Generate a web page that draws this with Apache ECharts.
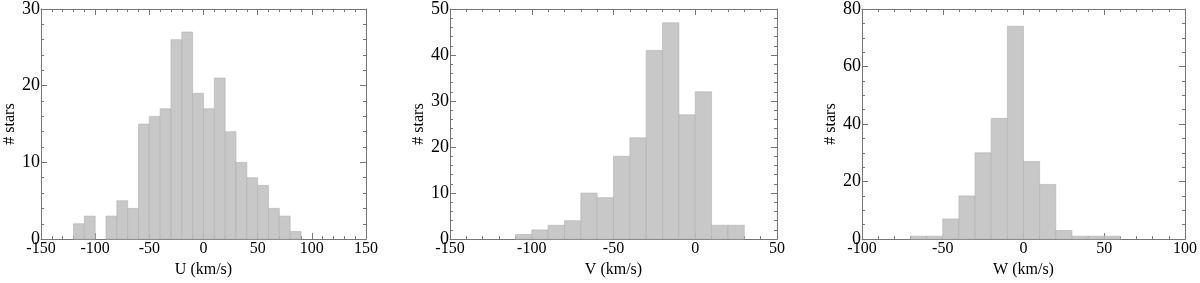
<!DOCTYPE html>
<html><head><meta charset="utf-8">
<script src="https://cdn.jsdelivr.net/npm/echarts@6/dist/echarts.min.js"></script>
<style>html,body{margin:0;padding:0;background:#fff}#c{width:1200px;height:283px}</style>
</head><body><div id="c"></div>
<script>
// Bin width (km/s)
var binWidth = 10;
// U histogram: left edges and counts
var uBins   = [-120,-110,-100,-90,-80,-70,-60,-50,-40,-30,-20,-10,0,10,20,30,40,50,60,70,80];
var uCounts = [2,3,0,3,5,4,15,16,17,26,27,19,17,21,14,10,8,7,4,3,1];
// V histogram
var vBins   = [-110,-100,-90,-80,-70,-60,-50,-40,-30,-20,-10,0,10,20];
var vCounts = [1,2,3,4,10,9,18,22,41,47,27,32,3,3];
// W histogram
var wBins   = [-70,-60,-50,-40,-30,-20,-10,0,10,20,30,40,50];
var wCounts = [1,1,7,15,30,42,74,27,19,3,1,1,1];

var xNames = ['U (km/s)','V (km/s)','W (km/s)'];
var yName = '# stars';
var xRanges = [[-150,150,50],[-150,50,50],[-100,100,50]];
var yRanges = [[0,30,10,5],[0,50,10,5],[0,80,20,4]];

var FONT = '"Liberation Serif", "DejaVu Serif", serif';
var FRAME = '#767676';

var grids = [
  {left:41, top:9, width:325, height:236},
  {left:450, top:9, width:327, height:236},
  {left:862, top:9, width:325, height:236}
];

var xAxes = [], yAxes = [], series = [];
var sets = [[uBins,uCounts],[vBins,vCounts],[wBins,wCounts]];

function tickCfg(){
  return {show:true, inside:true, length:6, lineStyle:{color:FRAME,width:1}};
}
for (var i=0;i<3;i++){
  var xr = xRanges[i], yr = yRanges[i];
  var base = {
    type:'value', gridIndex:i, min:xr[0], max:xr[1], interval:xr[2],
    axisLine:{show:true,onZero:false,lineStyle:{color:FRAME,width:1}},
    axisTick:tickCfg(),
    minorTick:{show:true,splitNumber:5,length:3,lineStyle:{color:FRAME,width:1}},
    splitLine:{show:false}
  };
  xAxes.push(Object.assign({}, base, {
    position:'bottom',
    name:xNames[i], nameLocation:'middle', nameGap:15,
    nameTextStyle:{fontFamily:FONT,fontSize:16,color:'#000'},
    axisLabel:{show:true,margin:2,fontFamily:FONT,fontSize:16,color:'#000',showMinLabel:true,showMaxLabel:true}
  }));
  xAxes.push(Object.assign({}, base, {position:'top', axisLabel:{show:false}}));
  var ybase = {
    type:'value', gridIndex:i, min:yr[0], max:yr[1], interval:yr[2],
    axisLine:{show:true,onZero:false,lineStyle:{color:FRAME,width:1}},
    axisTick:tickCfg(),
    minorTick:{show:true,splitNumber:yr[3],length:3,lineStyle:{color:FRAME,width:1}},
    splitLine:{show:false}
  };
  yAxes.push(Object.assign({}, ybase, {
    position:'left',
    name:yName, nameLocation:'middle', nameGap:20,
    nameTextStyle:{fontFamily:FONT,fontSize:16,color:'#000'},
    axisLabel:{show:true,margin:1,fontFamily:FONT,fontSize:18,color:'#000',showMinLabel:true,showMaxLabel:true}
  }));
  yAxes.push(Object.assign({}, ybase, {position:'right', axisLabel:{show:false}}));

  var data = sets[i][0].map(function(b,k){ return [b, b+binWidth, sets[i][1][k]]; });
  series.push({
    type:'custom', xAxisIndex:i*2, yAxisIndex:i*2,
    data:data, z:1,
    renderItem:function(params, api){
      var x0 = api.value(0), x1 = api.value(1), c = api.value(2);
      if (!c) return null;
      var p0 = api.coord([x0, c]);
      var p1 = api.coord([x1, 0]);
      return {
        type:'rect',
        shape:{x:p0[0], y:p0[1], width:p1[0]-p0[0], height:p1[1]-p0[1]},
        style:{fill:'#c8c8c8', stroke:'#b0b0b0', lineWidth:0.6}
      };
    }
  });
}

var chart = echarts.init(document.getElementById('c'), null, {renderer:'canvas'});
chart.setOption({
  animation:false,
  backgroundColor:'#fff',
  grid:grids,
  xAxis:xAxes,
  yAxis:yAxes,
  series:series
});
</script>
</body></html>
